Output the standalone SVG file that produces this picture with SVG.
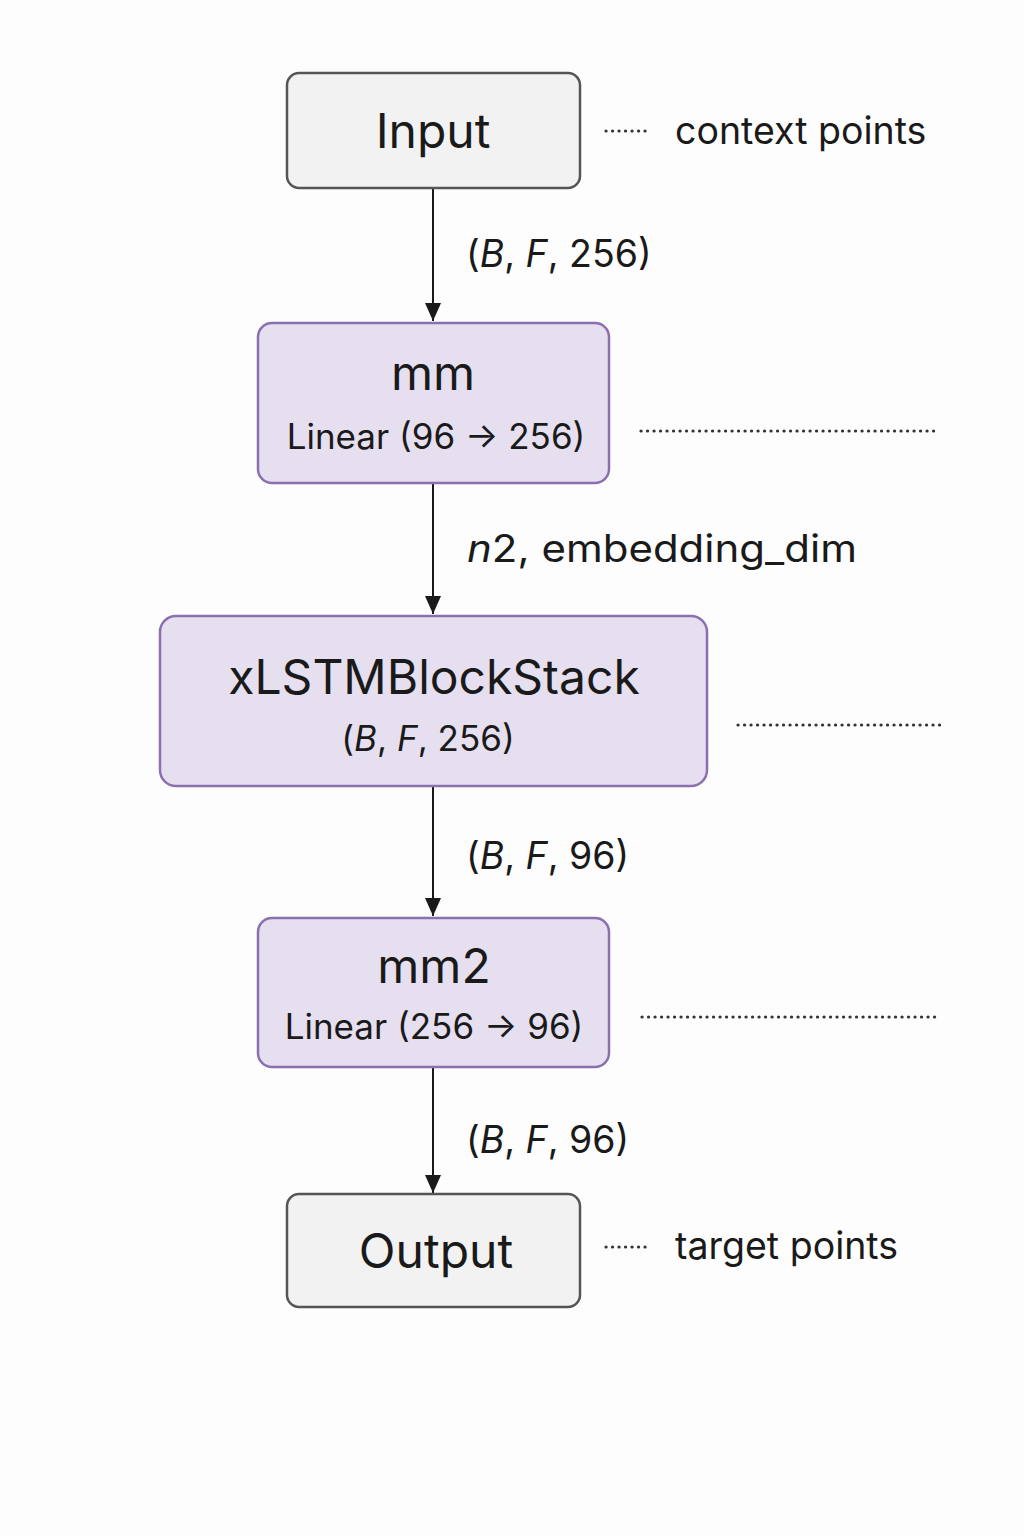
<svg xmlns="http://www.w3.org/2000/svg" width="1024" height="1536" viewBox="0 0 1024 1536">
<defs>
<style>
text{font-family:Inter,"Liberation Sans",sans-serif;fill:#1a1a1a}
.io{fill:#f2f2f2;stroke:#555;stroke-width:2.5}
.lin{fill:#e6dff0;stroke:#8b6fae;stroke-width:2.5}
.edge{stroke:#1a1a1a;stroke-width:2;fill:none}
.dot{stroke:#333;stroke-width:3.2;stroke-dasharray:0.1 6.4;stroke-linecap:round;fill:none}
.t1{font-size:48px;text-anchor:middle}
.t2{font-size:35px;text-anchor:middle}
.lbl{font-size:37.5px}
</style>
<marker id="a" viewBox="0 0 18 20" refX="18" refY="10" markerWidth="18" markerHeight="20" markerUnits="userSpaceOnUse" orient="auto"><path d="M0,2 L18,10 L0,18 z" fill="#1a1a1a"/></marker>
</defs>
<rect width="1024" height="1536" fill="#fdfdfd"/>
<g id="connectors">
<line class="edge" x1="433" y1="189" x2="433" y2="321" marker-end="url(#a)"/>
<line class="edge" x1="433" y1="484" x2="433" y2="614" marker-end="url(#a)"/>
<line class="edge" x1="433" y1="787" x2="433" y2="916" marker-end="url(#a)"/>
<line class="edge" x1="433" y1="1068" x2="433" y2="1193" marker-end="url(#a)"/>
<text class="lbl" x="466" y="267">(<tspan font-style="italic">B</tspan>, <tspan font-style="italic">F</tspan>, 256)</text>
<text class="lbl" x="467" y="562" font-size="41" textLength="390" lengthAdjust="spacingAndGlyphs"><tspan font-style="italic">n</tspan>2, embedding_dim</text>
<text class="lbl" x="466" y="869">(<tspan font-style="italic">B</tspan>, <tspan font-style="italic">F</tspan>, 96)</text>
<text class="lbl" x="466" y="1153">(<tspan font-style="italic">B</tspan>, <tspan font-style="italic">F</tspan>, 96)</text>
</g>
<g id="input">
<rect class="io" x="287" y="73" width="293" height="115" rx="12"/>
<text class="t1" x="433" y="148" font-size="50">Input</text>
<line class="dot" x1="606" y1="131" x2="651" y2="131"/>
<text class="lbl" x="675" y="144" font-size="38.5">context points</text>
</g>
<g id="mm">
<rect class="lin" x="258" y="323" width="351" height="160" rx="14"/>
<text class="t1" x="433" y="390">mm</text>
<text class="t2" x="436" y="449">Linear (96 → 256)</text>
<line class="dot" x1="641" y1="431" x2="940" y2="431"/>
</g>
<g id="xlstm">
<rect class="lin" x="160" y="616" width="547" height="170" rx="16"/>
<text class="t1" x="434" y="694" font-size="54">xLSTMBlockStack</text>
<text class="t2" x="428" y="751" font-size="36.5">(<tspan font-style="italic">B</tspan>, <tspan font-style="italic">F</tspan>, 256)</text>
<line class="dot" x1="738" y1="725" x2="943" y2="725"/>
</g>
<g id="mm2">
<rect class="lin" x="258" y="918" width="351" height="149" rx="14"/>
<text class="t1" x="434" y="983" font-size="46">mm2</text>
<text class="t2" x="434" y="1039">Linear (256 → 96)</text>
<line class="dot" x1="642" y1="1017" x2="941" y2="1017"/>
</g>
<g id="output">
<rect class="io" x="287" y="1194" width="293" height="113" rx="12"/>
<text class="t1" x="436" y="1268" font-size="52">Output</text>
<line class="dot" x1="606" y1="1247" x2="651" y2="1247"/>
<text class="lbl" x="675" y="1259" font-size="39">target points</text>
</g>
</svg>
